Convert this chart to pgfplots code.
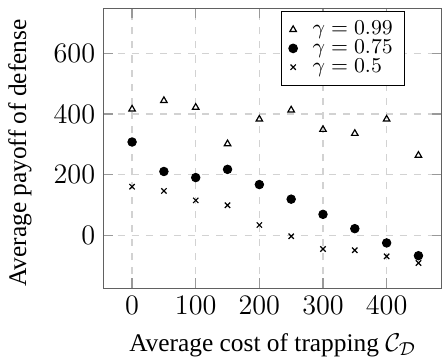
\documentclass[border=0pt]{standalone}
\usepackage{fontspec}
\setmainfont{Liberation Serif}
\usepackage{pgfplots}
\pgfplotsset{compat=1.18}
\begin{document}
\begin{tikzpicture}
\begin{axis}[
  scale only axis,
  width=144pt, height=119.1pt,
  xmin=-45, xmax=487, ymin=-173, ymax=748,
  xtick={0,100,200,300,400},
  ytick={0,200,400,600},
  grid=major,
  major grid style={dashed, gray!35, line width=0.5pt},
  axis line style={black!62, line width=0.6pt},
  major tick style={black!40, line width=0.5pt},
  tick label style={font=\fontsize{11.7}{14}\selectfont},
  label style={font=\fontsize{10.8}{13}\selectfont},
  xlabel={Average cost of trapping $\mathcal{C}_{\mathcal{D}}$},
  ylabel={Average payoff of defense},
  xlabel style={at={(axis description cs:0.5,-0.2267)}, anchor=base},
  ylabel style={at={(axis description cs:-0.2465,0.483)}, anchor=center, rotate=0},
  legend style={at={(axis description cs:0.891,0.990)}, anchor=north east,
    draw=black, line width=0.5pt, font=\fontsize{8.8}{10}\selectfont, row sep=-3.3pt, column sep=4.5pt},
  legend cell align=left,
]
\addplot[only marks, mark=triangle, mark size=1.6pt, black, mark options={line width=0.5pt}] coordinates {
 (0,416) (50,444) (100,422) (150,302) (200,383) (250,413) (300,349) (350,336) (400,383) (450,264)};
\addlegendentry{$\gamma = 0.99$}
\addplot[only marks, mark=*, mark size=1.8pt, black] coordinates {
 (0,308) (50,211) (100,191) (150,218) (200,168) (250,120) (300,70) (350,23) (400,-24) (450,-66)};
\addlegendentry{$\gamma = 0.75$}
\addplot[only marks, mark=x, mark size=1.6pt, black, mark options={line width=0.5pt}] coordinates {
 (0,161) (50,147) (100,116) (150,100) (200,35) (250,-2) (300,-44) (350,-48) (400,-68) (450,-90)};
\addlegendentry{$\gamma = 0.5$}
\end{axis}
\pgfresetboundingbox
\path ([xshift=-44pt,yshift=-29.7pt]current axis.south west) rectangle ([yshift=3.5pt]current axis.north east);
\end{tikzpicture}
\end{document}
